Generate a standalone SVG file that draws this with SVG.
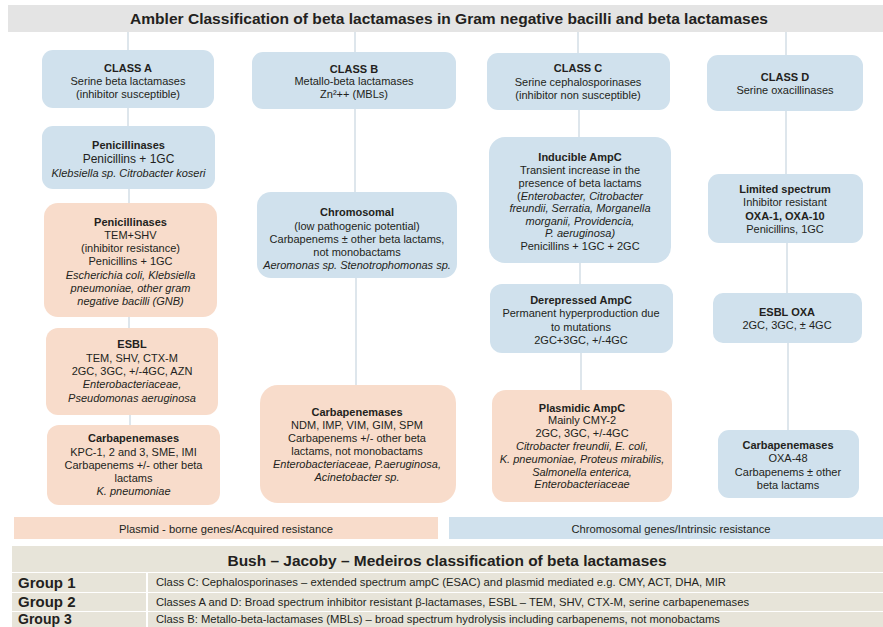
<svg xmlns="http://www.w3.org/2000/svg" width="883" height="627" viewBox="0 0 883 627">
<style>
text{font-family:"Liberation Sans",Arial,sans-serif;font-size:11px;fill:#231f20;text-anchor:middle}
.b{font-weight:bold}
.i{font-style:italic}
.blue{fill:#d0e1ed}
.orange{fill:#f8dccb}
.conn{stroke:#c8d5e0;stroke-width:1.2;fill:none}
.beige{fill:#e7e4d9}
.grp{font-size:15px;font-weight:bold;text-anchor:start}
.row{font-size:10.5px;text-anchor:start}
</style>
<rect width="883" height="627" fill="#ffffff"/>
<g id="title">
<rect x="8" y="5" width="875" height="27" fill="#e4e4e4"/>
<text x="449" y="24" class="b" style="font-size:15.5px" textLength="638" lengthAdjust="spacingAndGlyphs">Ambler Classification of beta lactamases in Gram negative bacilli and beta lactamases</text>
</g>
<g id="connectors">
<line class="conn" x1="128" y1="32" x2="128" y2="50"/>
<line class="conn" x1="128" y1="108" x2="128" y2="126"/>
<line class="conn" x1="129" y1="189" x2="129" y2="203"/>
<line class="conn" x1="129" y1="317" x2="129" y2="328"/>
<line class="conn" x1="130" y1="415" x2="130" y2="425"/>
<line class="conn" x1="355" y1="32" x2="355" y2="52"/>
<line class="conn" x1="355" y1="109" x2="355" y2="192"/>
<line class="conn" x1="356" y1="278" x2="356" y2="385"/>
<line class="conn" x1="578" y1="32" x2="578" y2="53"/>
<line class="conn" x1="579" y1="110" x2="579" y2="137"/>
<line class="conn" x1="580" y1="263" x2="580" y2="284"/>
<line class="conn" x1="581" y1="353" x2="581" y2="390"/>
<line class="conn" x1="786" y1="32" x2="786" y2="55"/>
<line class="conn" x1="786" y1="111" x2="786" y2="174"/>
<line class="conn" x1="787" y1="243" x2="787" y2="293"/>
<line class="conn" x1="788" y1="343" x2="788" y2="430"/>
</g>
<g id="classA">
<rect class="blue" x="42" y="50" width="172" height="58" rx="11"/>
<text x="128" y="72" class="b">CLASS A</text>
<text x="128" y="85">Serine beta lactamases</text>
<text x="128" y="98">(inhibitor susceptible)</text>
</g>
<g id="penicillinasesA1">
<rect class="blue" x="42" y="126" width="173" height="63" rx="11"/>
<text x="128.5" y="149" class="b">Penicillinases</text>
<text x="128.5" y="163" style="font-size:12px">Penicillins + 1GC</text>
<text x="128.5" y="177" class="i">Klebsiella sp. Citrobacter koseri</text>
</g>
<g id="penicillinasesA2">
<rect class="orange" x="44" y="203" width="173" height="114" rx="14"/>
<text x="130.5" y="226" class="b">Penicillinases</text>
<text x="130.5" y="239">TEM+SHV</text>
<text x="130.5" y="252">(inhibitor resistance)</text>
<text x="130.5" y="265">Penicillins + 1GC</text>
<text x="130.5" y="279" class="i">Escherichia coli, Klebsiella</text>
<text x="130.5" y="292" class="i">pneumoniae, other gram</text>
<text x="130.5" y="305" class="i">negative bacilli (GNB)</text>
</g>
<g id="esblA">
<rect class="orange" x="46" y="328" width="172" height="87" rx="12"/>
<text x="132" y="348" class="b">ESBL</text>
<text x="132" y="362">TEM, SHV, CTX-M</text>
<text x="132" y="375">2GC, 3GC, +/-4GC, AZN</text>
<text x="132" y="388" class="i">Enterobacteriaceae,</text>
<text x="132" y="402" class="i">Pseudomonas aeruginosa</text>
</g>
<g id="carbapenemasesA">
<rect class="orange" x="47" y="425" width="173" height="80" rx="12"/>
<text x="133.5" y="442" class="b">Carbapenemases</text>
<text x="133.5" y="456">KPC-1, 2 and 3, SME, IMI</text>
<text x="133.5" y="469">Carbapenems +/- other beta</text>
<text x="133.5" y="482">lactams</text>
<text x="133.5" y="495" class="i">K. pneumoniae</text>
</g>
<g id="classB">
<rect class="blue" x="252" y="52" width="204" height="57" rx="11"/>
<text x="354" y="73" class="b">CLASS B</text>
<text x="354" y="85">Metallo-beta lactamases</text>
<text x="354" y="98">Zn²++ (MBLs)</text>
</g>
<g id="chromosomalB">
<rect class="blue" x="257" y="192" width="200" height="86" rx="14"/>
<text x="357" y="216" class="b">Chromosomal</text>
<text x="357" y="230">(low pathogenic potential)</text>
<text x="357" y="243">Carbapenems ± other beta lactams,</text>
<text x="357" y="256">not monobactams</text>
<text x="357" y="269" class="i">Aeromonas sp. Stenotrophomonas sp.</text>
</g>
<g id="carbapenemasesB">
<rect class="orange" x="260" y="385" width="196" height="118" rx="18"/>
<text x="357" y="416" class="b">Carbapenemases</text>
<text x="357" y="429">NDM, IMP, VIM, GIM,  SPM</text>
<text x="357" y="442">Carbapenems +/- other beta</text>
<text x="357" y="455">lactams, not monobactams</text>
<text x="357" y="468" class="i">Enterobacteriaceae, P.aeruginosa,</text>
<text x="357" y="481" class="i">Acinetobacter sp.</text>
</g>
<g id="classC">
<rect class="blue" x="487" y="53" width="183" height="57" rx="11"/>
<text x="578" y="72" class="b">CLASS C</text>
<text x="578" y="86">Serine cephalosporinases</text>
<text x="578" y="99">(inhibitor non susceptible)</text>
</g>
<g id="inducibleC">
<rect class="blue" x="489" y="137" width="182" height="126" rx="16"/>
<text x="580" y="161" class="b">Inducible AmpC</text>
<text x="580" y="174">Transient increase in the</text>
<text x="580" y="187">presence of beta lactams</text>
<text x="580" y="200">(<tspan class="i">Enterobacter, Citrobacter</tspan></text>
<text x="580" y="212" class="i">freundii, Serratia, Morganella</text>
<text x="580" y="225" class="i">morganii, Providencia,</text>
<text x="580" y="237" class="i">P. aeruginosa)</text>
<text x="580" y="250">Penicillins + 1GC + 2GC</text>
</g>
<g id="derepressedC">
<rect class="blue" x="490" y="284" width="183" height="69" rx="12"/>
<text x="581" y="304" class="b">Derepressed AmpC</text>
<text x="581" y="317">Permanent hyperproduction due</text>
<text x="581" y="331">to mutations</text>
<text x="581" y="344">2GC+3GC, +/-4GC</text>
</g>
<g id="plasmidicC">
<rect class="orange" x="492" y="390" width="180" height="112" rx="14"/>
<text x="582" y="412" class="b">Plasmidic AmpC</text>
<text x="582" y="424">Mainly CMY-2</text>
<text x="582" y="437">2GC, 3GC, +/-4GC</text>
<text x="582" y="450" class="i">Citrobacter freundii, E. coli,</text>
<text x="582" y="463" class="i">K. pneumoniae, Proteus mirabilis,</text>
<text x="582" y="476" class="i">Salmonella enterica,</text>
<text x="582" y="488" class="i">Enterobacteriaceae</text>
</g>
<g id="classD">
<rect class="blue" x="707" y="55" width="156" height="56" rx="11"/>
<text x="785" y="81" class="b">CLASS D</text>
<text x="785" y="94">Serine oxacillinases</text>
</g>
<g id="limitedD">
<rect class="blue" x="708" y="174" width="155" height="69" rx="11"/>
<text x="785" y="193" class="b">Limited spectrum</text>
<text x="785" y="206">Inhibitor resistant</text>
<text x="785" y="220" class="b">OXA-1, OXA-10</text>
<text x="785" y="233">Penicillins, 1GC</text>
</g>
<g id="esblD">
<rect class="blue" x="713" y="293" width="149" height="50" rx="10"/>
<text x="787" y="316" class="b">ESBL OXA</text>
<text x="787" y="329">2GC, 3GC, ± 4GC</text>
</g>
<g id="carbapenemasesD">
<rect class="blue" x="718" y="430" width="141" height="68" rx="11"/>
<text x="788" y="449" class="b">Carbapenemases</text>
<text x="788" y="462">OXA-48</text>
<text x="788" y="476">Carbapenems ± other</text>
<text x="788" y="489">beta lactams</text>
</g>
<g id="legend">
<rect class="orange" x="14" y="517" width="424" height="22"/>
<text x="226" y="533" style="font-size:10.5px" textLength="214" lengthAdjust="spacingAndGlyphs">Plasmid - borne genes/Acquired resistance</text>
<rect class="blue" x="449" y="517" width="434" height="22"/>
<text x="671" y="533" style="font-size:10.5px" textLength="199" lengthAdjust="spacingAndGlyphs">Chromosomal genes/Intrinsic resistance</text>
</g>
<g id="bushTable">
<rect class="beige" x="12" y="546" width="871" height="26"/>
<text x="447" y="566" class="b" style="font-size:15px" textLength="439" lengthAdjust="spacingAndGlyphs">Bush – Jacoby – Medeiros classification of beta lactamases</text>
<rect class="beige" x="12" y="573" width="134" height="19"/>
<rect class="beige" x="148" y="573" width="735" height="19"/>
<rect class="beige" x="12" y="593" width="134" height="18"/>
<rect class="beige" x="148" y="593" width="735" height="18"/>
<rect class="beige" x="12" y="612" width="134" height="15"/>
<rect class="beige" x="148" y="612" width="735" height="15"/>
<text x="18" y="588" class="grp">Group 1</text>
<text x="18" y="607" class="grp">Group 2</text>
<text x="18" y="624" class="grp" style="font-size:14px">Group 3</text>
<text x="156" y="586" class="row" textLength="570" lengthAdjust="spacingAndGlyphs">Class C: Cephalosporinases – extended spectrum ampC (ESAC) and plasmid mediated e.g. CMY, ACT, DHA, MIR</text>
<text x="156" y="606" class="row" textLength="593" lengthAdjust="spacingAndGlyphs">Classes A and D: Broad spectrum inhibitor resistant β-lactamases, ESBL – TEM, SHV, CTX-M, serine carbapenemases</text>
<text x="156" y="623" class="row" textLength="564" lengthAdjust="spacingAndGlyphs">Class B: Metallo-beta-lactamases (MBLs) – broad spectrum hydrolysis including carbapenems, not monobactams</text>
</g>
</svg>
